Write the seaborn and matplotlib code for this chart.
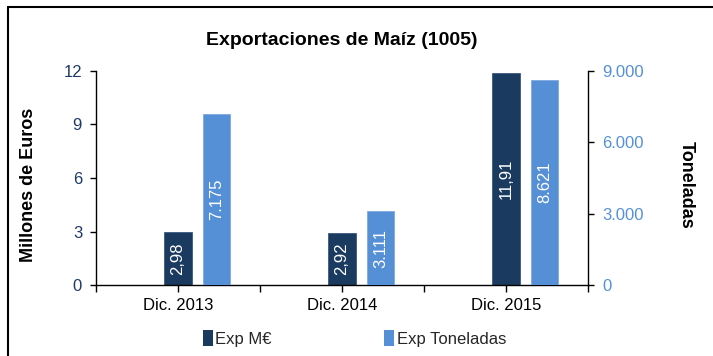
import matplotlib
matplotlib.use("Agg")
import matplotlib.pyplot as plt
import seaborn as sns
import numpy as np
from matplotlib.patches import Patch
from matplotlib.lines import Line2D

categories = ["Dic. 2013", "Dic. 2014", "Dic. 2015"]
exp_meur = [2.98, 2.92, 11.91]
exp_ton = [7175, 3111, 8621]
meur_labels = ["2,98", "2,92", "11,91"]
ton_labels = ["7.175", "3.111", "8.621"]
left_ticks = [0, 3, 6, 9, 12]
right_ticks = [0, 3000, 6000, 9000]
right_tick_labels = ["0", "3.000", "6.000", "9.000"]

DARK = "#1B3A5F"
LIGHT = "#5590D6"
NAVY_TXT = "#1F3A63"

sns.set_theme(style="white")
plt.rcParams["font.family"] = ["Liberation Sans Narrow", "Liberation Sans", "DejaVu Sans"]

fig = plt.figure(figsize=(7.13, 3.56), dpi=100)
ax1 = fig.add_axes([0.1346, 0.1994, 0.6901, 0.6012])
ax2 = ax1.twinx()

pos = np.arange(len(categories))
sns.barplot(x=pos, y=exp_meur, native_scale=True, width=0.165, color=DARK,
            saturation=1, ax=ax1, edgecolor="#3A5A80", linewidth=0.6)
sns.barplot(x=pos + 0.235, y=exp_ton, native_scale=True, width=0.165, color=LIGHT,
            saturation=1, ax=ax2, edgecolor="#7FA9E0", linewidth=0.6)

ax1.bar_label(ax1.containers[0], labels=meur_labels, label_type="center",
              rotation=90, color="white", fontsize=12)
ax2.bar_label(ax2.containers[0], labels=ton_labels, label_type="center",
              rotation=90, color="white", fontsize=12)

for ax in (ax1, ax2):
    ax.set_xlim(-0.5, 2.5)
    for s in ax.spines.values():
        s.set_visible(False)

ax1.set_ylim(0, 12)
ax2.set_ylim(0, 9000)

ax1.spines["left"].set_visible(True)
ax1.spines["bottom"].set_visible(True)
ax2.spines["right"].set_visible(True)
for sp in (ax1.spines["left"], ax1.spines["bottom"], ax2.spines["right"]):
    sp.set_color("black")
    sp.set_linewidth(1.0)

ax1.set_yticks(left_ticks)
ax1.set_yticklabels([str(t) for t in left_ticks])
ax2.set_yticks(right_ticks)
ax2.set_yticklabels(right_tick_labels)

ax1.set_xticks(pos)
ax1.set_xticklabels(categories)
ax1.set_xticks([-0.5, 0.5, 1.5, 2.5], minor=True)

ax1.tick_params(axis="y", colors="black", labelcolor=NAVY_TXT, labelsize=12,
                direction="out", length=4, width=1, left=True, pad=6)
ax2.tick_params(axis="y", colors="black", labelcolor=LIGHT, labelsize=12,
                direction="out", length=4, width=1, right=True, pad=6)
ax1.tick_params(axis="x", which="both", colors="black", labelcolor="black",
                labelsize=12, direction="out", length=5, width=1, bottom=True, pad=4)
ax2.tick_params(axis="x", bottom=False, labelbottom=False)

ax1.set_xlabel("")
ax1.set_ylabel("")
ax2.set_ylabel("")

fig.text(0.04, 0.48, "Millones de Euros", rotation=90, ha="center", va="center",
         fontsize=13, fontweight="bold", color="black")
fig.text(0.962, 0.48, "Toneladas", rotation=-90, ha="center", va="center",
         fontsize=13, fontweight="bold", color="black")
fig.text(0.48, 0.885, "Exportaciones de Maíz (1005)", ha="center", va="center",
         fontsize=14, fontweight="bold", color="black")

handles = [Patch(facecolor=DARK, edgecolor="none"), Patch(facecolor=LIGHT, edgecolor="none")]
fig.legend(handles, ["Exp M€", "Exp Toneladas"], loc="center", bbox_to_anchor=(0.497, 0.05),
           ncol=2, frameon=False, fontsize=12, handlelength=0.6, handleheight=1.1,
           handletextpad=0.15, columnspacing=6.75)

# frame lines along the top and left edges
fig.add_artist(Line2D([0.011, 1.0], [0.98, 0.98], color="black", lw=1.5,
                      transform=fig.transFigure))
fig.add_artist(Line2D([0.011, 0.011], [0.0, 0.98], color="black", lw=1.5,
                      transform=fig.transFigure))

fig.savefig("out.png", dpi=100, facecolor="white")
